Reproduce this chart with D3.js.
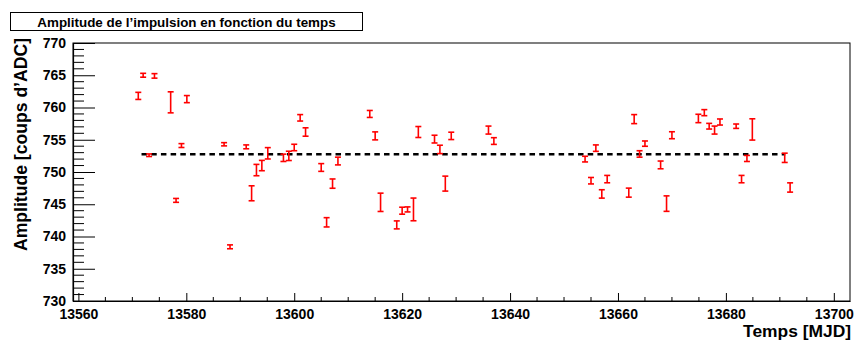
<!DOCTYPE html>
<html>
<head>
<meta charset="utf-8">
<script src="https://cdn.jsdelivr.net/npm/d3@7"></script>
<style>
  body { margin: 0; background: #fff; }
  svg { display: block; }
  text { font-family: "Liberation Sans", Arial, Helvetica, sans-serif; font-weight: bold; }
</style>
</head>
<body>
<script>
// ---- data ----
const title = "Amplitude de l\u2019impulsion en fonction du temps";
const xTitle = "Temps [MJD]";
const yTitle = "Amplitude [coups d\u2019ADC]";

const mjd = [13571.1, 13572.0, 13573.1, 13574.1, 13577.1, 13578.1, 13579.1, 13580.1,
  13587.0, 13588.1, 13591.1, 13592.1, 13593.0, 13594.0, 13595.1, 13598.0, 13599.0,
  13600.0, 13601.1, 13602.1, 13605.0, 13606.0, 13607.1, 13608.1, 13614.0, 13615.0,
  13616.0, 13619.0, 13620.0, 13621.0, 13622.1, 13623.0, 13626.0, 13627.0, 13628.0,
  13629.1, 13636.0, 13637.0, 13653.9, 13655.0, 13655.9, 13657.0, 13658.0, 13662.0,
  13663.0, 13664.0, 13665.0, 13667.9, 13669.0, 13670.0, 13674.9, 13676.0, 13676.9,
  13677.9, 13678.9, 13681.9, 13682.9, 13683.9, 13684.9, 13690.9, 13691.9];
const amplitude = [761.8, 765.0, 752.6, 764.9, 760.8, 745.6, 754.1, 761.3,
  754.3, 738.4, 753.9, 746.7, 750.3, 751.0, 752.9, 752.2, 752.5,
  753.8, 758.4, 756.2, 750.7, 742.2, 748.2, 751.7, 759.0, 755.6,
  745.3, 741.8, 744.0, 744.2, 744.2, 756.2, 755.1, 753.5, 748.2,
  755.6, 756.5, 754.8, 752.0, 748.65, 753.7, 746.6, 748.9, 746.8,
  758.2, 752.8, 754.4, 751.1, 745.1, 755.7, 758.3, 759.2, 757.1,
  756.5, 757.75, 757.1, 748.9, 752.1, 756.6, 752.2, 747.6];
const amplitudeErr = [0.55, 0.3, 0.2, 0.35, 1.63, 0.3, 0.3, 0.55,
  0.25, 0.3, 0.3, 1.16, 0.88, 0.8, 0.88, 0.57, 0.72,
  0.5, 0.5, 0.65, 0.6, 0.72, 0.72, 0.6, 0.54, 0.62,
  1.42, 0.62, 0.54, 0.39, 1.76, 0.85, 0.6, 0.65, 1.16,
  0.57, 0.62, 0.52, 0.44, 0.5, 0.5, 0.65, 0.57, 0.7,
  0.7, 0.5, 0.41, 0.6, 1.2, 0.54, 0.65, 0.47, 0.44,
  0.62, 0.47, 0.34, 0.57, 0.47, 1.65, 0.72, 0.72];
const fitValue = 752.75;
const fitRange = [13571.7, 13691.0];

const xDomain = [13559, 13703];
const yDomain = [730, 770];
const xTicks = [13560, 13580, 13600, 13620, 13640, 13660, 13680, 13700];
const yTicks = [730, 735, 740, 745, 750, 755, 760, 765, 770];

// ---- layout ----
const W = 856, H = 341;
const L = 73, R = 850, T = 43, B = 301;

const svg = d3.select("body").append("svg").attr("width", W).attr("height", H);

const x = d3.scaleLinear().domain(xDomain).range([L, R]);
const y = d3.scaleLinear().domain(yDomain).range([B, T]);

// frame
svg.append("rect").attr("x", L).attr("y", T).attr("width", R - L).attr("height", B - T)
  .attr("fill", "none").attr("stroke", "#000").attr("stroke-width", 1);

// x axis
const xMinor = d3.range(13560, 13703, 5).filter(v => !xTicks.includes(v));
const gx = svg.append("g").attr("transform", `translate(0,${B})`);
gx.call(d3.axisBottom(x).tickValues(xTicks).tickSize(0).tickPadding(8).tickFormat(d3.format("d")));
gx.select(".domain").attr("stroke", "#000").attr("stroke-width", 1.2);
gx.selectAll(".tick text").attr("font-size", 14).attr("fill", "#000")
  .attr("font-family", "Liberation Sans, Arial, sans-serif").attr("font-weight", "bold");
gx.selectAll(".tick").append("line").attr("y1", 0).attr("y2", -8).attr("stroke", "#000");
xMinor.forEach(v => {
  gx.append("line").attr("x1", x(v)).attr("x2", x(v)).attr("y1", 0).attr("y2", -4).attr("stroke", "#000");
});

// y axis
const yMinor = d3.range(731, 770, 1).filter(v => !yTicks.includes(v));
const gy = svg.append("g").attr("transform", `translate(${L},0)`);
gy.call(d3.axisLeft(y).tickValues(yTicks).tickSize(0).tickPadding(7).tickFormat(d3.format("d")));
gy.select(".domain").attr("stroke", "#000").attr("stroke-width", 1.2);
gy.selectAll(".tick text").attr("font-size", 14).attr("fill", "#000")
  .attr("font-family", "Liberation Sans, Arial, sans-serif").attr("font-weight", "bold");
gy.selectAll(".tick").append("line").attr("x1", 0).attr("x2", 22).attr("stroke", "#000");
yMinor.forEach(v => {
  gy.append("line").attr("x1", 0).attr("x2", 11).attr("y1", y(v)).attr("y2", y(v)).attr("stroke", "#000");
});

// fit line
svg.append("line")
  .attr("x1", x(fitRange[0])).attr("x2", x(fitRange[1]))
  .attr("y1", y(fitValue)).attr("y2", y(fitValue))
  .attr("stroke", "#000").attr("stroke-width", 2.6).attr("stroke-dasharray", "5.5,4.2");

// error bars
const pts = mjd.map((m, i) => ({ m, a: amplitude[i], e: amplitudeErr[i] }));
const gp = svg.append("g").attr("stroke", "#ff0000").attr("stroke-width", 1.6);
pts.forEach(p => {
  const cx = x(p.m), y0 = y(p.a - p.e), y1 = y(p.a + p.e);
  gp.append("line").attr("x1", cx).attr("x2", cx).attr("y1", y0).attr("y2", y1);
  gp.append("line").attr("x1", cx - 3).attr("x2", cx + 3).attr("y1", y0).attr("y2", y0);
  gp.append("line").attr("x1", cx - 3).attr("x2", cx + 3).attr("y1", y1).attr("y2", y1);
});

// axis titles
svg.append("text").attr("x", 851).attr("y", 337).attr("text-anchor", "end")
  .attr("font-size", 17.4).text(xTitle);
svg.append("text").attr("transform", "translate(27,38) rotate(-90)").attr("text-anchor", "end")
  .attr("font-size", 17.6).text(yTitle);

// title box
svg.append("rect").attr("x", 10.5).attr("y", 12.5).attr("width", 352).attr("height", 18)
  .attr("fill", "#fff").attr("stroke", "#000").attr("stroke-width", 1);
svg.append("text").attr("x", 186.5).attr("y", 26.5).attr("text-anchor", "middle")
  .attr("font-size", 13.4).text(title);
</script>
</body>
</html>
